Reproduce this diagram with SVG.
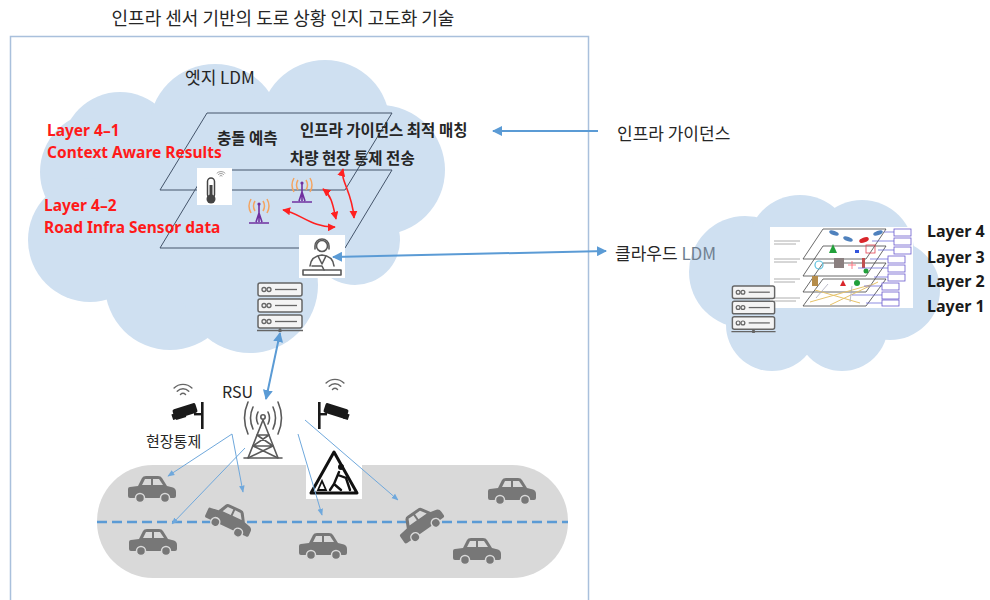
<svg xmlns="http://www.w3.org/2000/svg" width="990" height="600" viewBox="0 0 990 600">
<style>
.kr{font-family:"Noto Sans CJK KR","Noto Sans",sans-serif;fill:#262626}
.b{font-weight:bold}
.red{font-family:"Noto Sans","Liberation Sans",sans-serif;font-weight:bold;font-size:15.5px;fill:#ff1a1a}
.cloud{fill:#cfe0f1}
.plane{fill:none;stroke:#44546a;stroke-width:1}
.blue{stroke:#5b9bd5;fill:none}
.thin{stroke:#6fa8dc;stroke-width:1;fill:none}
.rd{stroke:#ff2020;fill:none;stroke-width:1.6}
.ic{fill:none;stroke:#5a5a5a;stroke-width:1.6;stroke-linecap:round;stroke-linejoin:round}
.lyr{font-family:"Noto Sans","Liberation Sans",sans-serif;font-weight:bold;font-size:16px;fill:#1a1a1a}
.box{fill:#fff;stroke:#6a5acd;stroke-width:0.8}
</style>
<defs>
  <marker id="ab" viewBox="0 0 10 10" refX="9" refY="5" markerWidth="5" markerHeight="5" orient="auto-start-reverse">
    <path d="M0,0 L10,5 L0,10 z" fill="#5b9bd5"/>
  </marker>
  <marker id="at" viewBox="0 0 10 10" refX="9" refY="5" markerWidth="7" markerHeight="7" orient="auto-start-reverse">
    <path d="M0,1 L10,5 L0,9 z" fill="#6fa8dc"/>
  </marker>
  <marker id="ar" viewBox="0 0 10 10" refX="9" refY="5" markerWidth="5" markerHeight="5" orient="auto-start-reverse">
    <path d="M0,0 L10,5 L0,10 z" fill="#ff2020"/>
  </marker>
  <symbol id="car" viewBox="0 0 50 28">
    <path fill="#777" d="M3,12 L11,11 L15,3 Q16,1 19,1 L31,1 Q34,1 35,3 L40,11 L46,12.5 Q49,13.5 49,17 L49,21 Q49,23 47,23 L3,23 Q1,23 1,21 L1,14 Q1,12 3,12 Z"/>
    <path fill="#d9d9d9" d="M15,10 L18,4 L24,4 L24,10 Z M26,4 L32,4 L36,10 L26,10 Z"/>
    <circle cx="13" cy="23" r="4.5" fill="#777" stroke="#d9d9d9" stroke-width="1.5"/>
    <circle cx="38" cy="23" r="4.5" fill="#777" stroke="#d9d9d9" stroke-width="1.5"/>
  </symbol>
  <symbol id="server" viewBox="0 0 46 50">
    <g fill="#f4f4f4" stroke="#666" stroke-width="1.5">
      <rect x="1" y="1" width="44" height="13" rx="2"/>
      <rect x="1" y="17" width="44" height="13" rx="2"/>
      <rect x="1" y="33" width="44" height="13" rx="2"/>
    </g>
    <g fill="none" stroke="#666" stroke-width="1.3">
      <circle cx="7" cy="7.5" r="2"/><circle cx="12" cy="7.5" r="2"/><path d="M18,7.5 H40"/>
      <circle cx="7" cy="23.5" r="2"/><circle cx="12" cy="23.5" r="2"/><path d="M18,23.5 H40"/>
      <circle cx="7" cy="39.5" r="2"/><circle cx="12" cy="39.5" r="2"/><path d="M18,39.5 H40"/>
      <path d="M0,48.5 H46 M23,46 V48.5"/>
    </g>
    <circle cx="23" cy="48.5" r="1.8" fill="#666"/>
  </symbol>
  <symbol id="wifi" viewBox="0 0 30 20">
    <g fill="none" stroke="#666" stroke-width="1.6" stroke-linecap="round">
      <path d="M5.1,10.1 A14,14 0 0 1 24.9,10.1"/>
      <path d="M8.6,13.6 A9,9 0 0 1 21.4,13.6"/>
      <path d="M12.2,17.2 A4,4 0 0 1 17.8,17.2"/>
    </g>
  </symbol>
  <symbol id="ant" viewBox="0 0 30 28">
    <g stroke="#7030a0" stroke-width="1.6" fill="none">
      <path d="M15,5 V24 M5,25 H25 M12,24 L15,15 L18,24"/>
    </g>
    <circle cx="15" cy="6" r="1.6" fill="#7030a0"/>
    <g stroke="#f4a460" stroke-width="1.5" fill="none">
      <path d="M11,3 Q8,8 11,13 M7,1 Q3,8 7,15 M19,3 Q22,8 19,13 M23,1 Q27,8 23,15"/>
    </g>
  </symbol>
</defs>

<rect width="990" height="600" fill="#fff"/>

<!-- title and outer frame -->
<text class="kr" x="283" y="25" font-size="18" text-anchor="middle">인프라 센서 기반의 도로 상황 인지 고도화 기술</text>
<rect x="10.5" y="36.5" width="578" height="580" fill="none" stroke="#a9c0dc" stroke-width="1.5"/>

<!-- edge LDM cloud -->
<g id="edge-cloud" class="cloud">
  <circle cx="120" cy="150" r="58"/>
  <circle cx="100" cy="172" r="60"/>
  <circle cx="215" cy="130" r="66"/>
  <circle cx="325" cy="125" r="65"/>
  <circle cx="380" cy="170" r="65"/>
  <circle cx="90" cy="240" r="62"/>
  <circle cx="170" cy="285" r="65"/>
  <circle cx="250" cy="285" r="68"/>
  <circle cx="355" cy="240" r="45"/>
  <circle cx="220" cy="200" r="110"/>
</g>

<!-- cloud LDM cloud -->
<g id="cloud-ldm" class="cloud">
  <circle cx="745" cy="272" r="56"/>
  <circle cx="800" cy="248" r="53"/>
  <circle cx="862" cy="252" r="52"/>
  <circle cx="890" cy="290" r="50"/>
  <circle cx="772" cy="325" r="46"/>
  <circle cx="842" cy="325" r="46"/>
  <circle cx="820" cy="290" r="55"/>
</g>

<!-- cloud-side LDM layer stack picture -->
<g id="ldm-layer-stack">
  <rect x="770" y="227" width="143" height="81" fill="#fff"/>
  <path d="M774,241 H800 M774,244 H796 M774,259 H800 M774,262 H797 M774,279 H800 M774,282 H795 M774,298 H800 M774,301 H796" stroke="#9a9a9a" stroke-width="0.8"/>
  <g fill="none" stroke="#444" stroke-width="0.8">
    <path d="M823,279 L886,279 L866,306 L803,306 Z"/>
    <path d="M823,263 L886,263 L866,292 L803,292 Z"/>
    <path d="M823,246 L886,246 L866,276 L803,276 Z"/>
    <path d="M823,229 L886,229 L866,259 L803,259 Z"/>
  </g>
  <path d="M810,302 L870,285 M830,305 L878,282 M815,290 L860,303" stroke="#e6c36a" stroke-width="1"/>
  <path d="M816,298 L828,284 M850,302 L852,286" stroke="#aab" stroke-width="0.8"/>
  <g fill="#4f81bd">
    <ellipse cx="834" cy="233" rx="5" ry="2.2" transform="rotate(20 834 233)"/>
    <ellipse cx="848" cy="239" rx="5" ry="2.2" transform="rotate(20 848 239)"/>
    <ellipse cx="878" cy="233" rx="5" ry="2.2" transform="rotate(-20 878 233)"/>
  </g>
  <ellipse cx="864" cy="240" rx="5" ry="2.5" fill="#d9262b" transform="rotate(-20 864 240)"/>
  <path d="M829,253 L833,244 L837,253 Z" fill="#22a03a"/>
  <rect x="866" y="245" width="9" height="8" fill="none" stroke="#e04050" stroke-width="0.8"/>
  <rect x="855" y="250" width="4" height="3" fill="#3355dd"/>
  <circle cx="819" cy="265" r="4" fill="none" stroke="#5bc0de" stroke-width="1.2"/>
  <rect x="834" y="258" width="10" height="10" fill="#8a7f7f"/>
  <path d="M848,265 H856 M852,261 V269" stroke="#ff6070" stroke-width="0.8"/>
  <rect x="862" y="258" width="3" height="10" fill="#c05050"/>
  <circle cx="866" cy="271" r="2.5" fill="#22a03a"/>
  <circle cx="857" cy="283" r="3" fill="#22a03a"/>
  <rect x="812" y="276" width="6" height="10" fill="#b58c4a"/>
  <path d="M840,286 L843,280 L846,286 Z" fill="#d9262b"/>
  <g class="box">
    <rect x="894" y="229" width="17" height="7"/>
    <rect x="894" y="238" width="17" height="7"/>
    <rect x="894" y="247" width="17" height="7"/>
    <rect x="888" y="256" width="17" height="7"/>
    <rect x="888" y="265" width="17" height="7"/>
    <rect x="888" y="274" width="17" height="7"/>
    <rect x="882" y="283" width="17" height="7"/>
    <rect x="882" y="292" width="17" height="7"/>
    <rect x="882" y="300" width="17" height="6"/>
  </g>
  <path d="M894,232 H884 M894,241 H872 M894,250 H878 M888,259 H870 M888,268 H858 M888,277 H874 M882,286 H864 M882,295 H852 M882,303 H866" stroke="#5b5bd6" stroke-width="0.7"/>
</g>

<!-- cloud-side server -->
<use href="#server" x="730" y="285" width="47" height="48"/>

<!-- layer planes in the edge cloud -->
<g id="layer-planes">
  <path class="plane" d="M207,113 L392,113 L345,190 L160,190 Z"/>
  <path class="plane" d="M207,170 L392,170 L345,248 L160,248 Z"/>
</g>

<!-- sensor icons on the lower plane -->
<g id="thermometer">
  <rect x="197" y="168" width="35" height="37" fill="#fff"/>
  <rect x="207.5" y="178" width="7" height="20" rx="3.5" fill="#fff" stroke="#444" stroke-width="1.5"/>
  <rect x="209.5" y="185" width="3" height="12" fill="#444"/>
  <circle cx="211" cy="199" r="4.5" fill="#444"/>
  <use href="#wifi" x="215" y="169" width="12" height="8"/>
</g>
<g id="sensor-a"><use href="#ant" x="287" y="177" width="30" height="28"/></g>
<g id="sensor-b"><use href="#ant" x="244" y="198" width="30" height="28"/></g>
<g id="operator">
  <rect x="299" y="235" width="46" height="43" fill="#fff"/>
  <g class="ic">
    <circle cx="322" cy="246" r="5.5"/>
    <path d="M315,246 A7,7 0 0 1 329,246 M315,246 V249 M329,246 V249"/>
    <path d="M310,266 Q311,256 322,255 Q333,256 334,266"/>
    <path d="M318,256 L322,264 L326,256"/>
    <path d="M303,270 H341 V275 H303 Z"/>
    <path d="M312,266 H322 L324,270"/>
  </g>
</g>

<!-- edge server -->
<use href="#server" x="257" y="282" width="46" height="50"/>

<!-- RSU tower -->
<g id="rsu-tower" class="ic" stroke="#555" stroke-width="1.8">
  <path d="M258,412 Q255,418 258,424 M253,407 Q248,418 253,429 M248,402 Q241,418 248,434"/>
  <path d="M268,412 Q271,418 268,424 M273,407 Q278,418 273,429 M278,402 Q285,418 278,434"/>
  <circle cx="263" cy="417" r="2.2"/>
  <path d="M263,420 L248,458 M263,420 L278,458 M244,458 H282"/>
  <path d="M257,435 H269 M253,446 H273 M257,435 L273,446 M269,435 L253,446 M253,446 L278,458 M273,446 L248,458"/>
</g>

<!-- CCTV cameras -->
<g id="cam-left" fill="#1a1a1a">
  <use href="#wifi" x="169" y="379" width="28" height="18"/>
  <rect x="201" y="402" width="2.6" height="27"/>
  <rect x="194" y="413" width="8" height="2.4"/>
  <rect x="-12" y="-5" width="24" height="10" rx="2" transform="translate(185,411) rotate(-18)"/>
  <rect x="-14" y="-1" width="5" height="6" transform="translate(185,411) rotate(-18)"/>
  <path d="M176,419 L186,416" stroke="#1a1a1a" stroke-width="2"/>
</g>
<g id="cam-right" fill="#1a1a1a">
  <use href="#wifi" x="321" y="374" width="28" height="18"/>
  <rect x="318" y="402" width="2.6" height="27"/>
  <rect x="319" y="413" width="8" height="2.4"/>
  <rect x="-12" y="-5" width="24" height="10" rx="2" transform="translate(336,411) rotate(18)"/>
  <rect x="9" y="-1" width="5" height="6" transform="translate(336,411) rotate(18)"/>
</g>

<!-- road -->
<g id="road">
  <rect x="97" y="465" width="471" height="113" rx="56" fill="#d9d9d9"/>
  <line x1="97" y1="522" x2="568" y2="522" stroke="#5b9bd5" stroke-width="2.5" stroke-dasharray="10 5"/>
</g>
<g id="vehicles">
  <use href="#car" x="127" y="475" width="50" height="28"/>
  <use href="#car" x="128" y="528" width="50" height="28"/>
  <use href="#car" x="298" y="532" width="50" height="28"/>
  <use href="#car" x="487" y="477" width="50" height="28"/>
  <use href="#car" x="452" y="537" width="50" height="28"/>
  <use href="#car" x="-25" y="-14" width="50" height="28" transform="translate(230,519) rotate(25)"/>
  <use href="#car" x="-25" y="-14" width="50" height="28" transform="translate(420,523) rotate(-35)"/>
</g>

<!-- work zone sign -->
<g id="work-sign">
  <rect x="306" y="448" width="56" height="51" fill="#fff"/>
  <path d="M334,452 L357,493 L311,493 Z" fill="#fff" stroke="#111" stroke-width="3" stroke-linejoin="round"/>
  <circle cx="341" cy="467" r="3" fill="#111"/>
  <g fill="none" stroke="#111" stroke-width="2.4" stroke-linecap="round">
    <path d="M339,472 L334,484 L330,490 M334,484 L341,490 M338,475 L346,478 L350,490"/>
    <path d="M318,490 L322,481 L326,490 Z" stroke-width="1.8"/>
  </g>
</g>

<!-- connectors -->
<g id="connectors">
  <line x1="598" y1="131" x2="493" y2="131" class="blue" stroke-width="2" marker-end="url(#ab)"/>
  <line x1="333" y1="257" x2="606" y2="251" class="blue" stroke-width="2" marker-start="url(#ab)" marker-end="url(#ab)"/>
  <line x1="280" y1="333" x2="266" y2="399" class="blue" stroke-width="2" marker-start="url(#ab)" marker-end="url(#ab)"/>
  <path class="rd" d="M283,210 C300,213 312,228 335,227" marker-start="url(#ar)" marker-end="url(#ar)"/>
  <path class="rd" d="M323,189 C332,196 333,206 336,219" marker-start="url(#ar)" marker-end="url(#ar)"/>
  <path class="rd" d="M343,169 C340,181 352,191 354,218" marker-start="url(#ar)" marker-end="url(#ar)"/>
  <line class="thin" x1="232" y1="434" x2="168" y2="476" marker-end="url(#at)"/>
  <line class="thin" x1="232" y1="434" x2="243" y2="492" marker-end="url(#at)"/>
  <line class="thin" x1="245" y1="448" x2="172" y2="524" marker-end="url(#at)"/>
  <line class="thin" x1="298" y1="434" x2="322" y2="515" marker-end="url(#at)"/>
  <line class="thin" x1="305" y1="420" x2="398" y2="500" marker-end="url(#at)"/>
</g>

<!-- labels -->
<g id="labels">
  <text class="kr" x="185" y="84" font-size="17">엣지 LDM</text>
  <text class="red" x="47" y="136">Layer 4–1</text>
  <text class="red" x="47" y="158">Context Aware Results</text>
  <text class="red" x="44" y="211">Layer 4–2</text>
  <text class="red" x="44" y="233">Road Infra Sensor data</text>
  <text class="kr b" x="217" y="144" font-size="15.5">충돌 예측</text>
  <text class="kr b" x="300" y="136" font-size="15.5">인프라 가이던스 최적 매칭</text>
  <text class="kr b" x="290" y="164" font-size="15.5">차량 현장 통제 전송</text>
  <text class="kr" x="617" y="140" font-size="17">인프라 가이던스</text>
  <text class="kr" x="615" y="260" font-size="17">클라우드 <tspan fill="#6f7f90">LDM</tspan></text>
  <text class="kr" x="222" y="398" font-size="16">RSU</text>
  <text class="kr" x="146" y="447" font-size="15">현장통제</text>
  <text class="lyr" x="927" y="237">Layer 4</text>
  <text class="lyr" x="927" y="263">Layer 3</text>
  <text class="lyr" x="927" y="287">Layer 2</text>
  <text class="lyr" x="927" y="312">Layer 1</text>
</g>
</svg>
